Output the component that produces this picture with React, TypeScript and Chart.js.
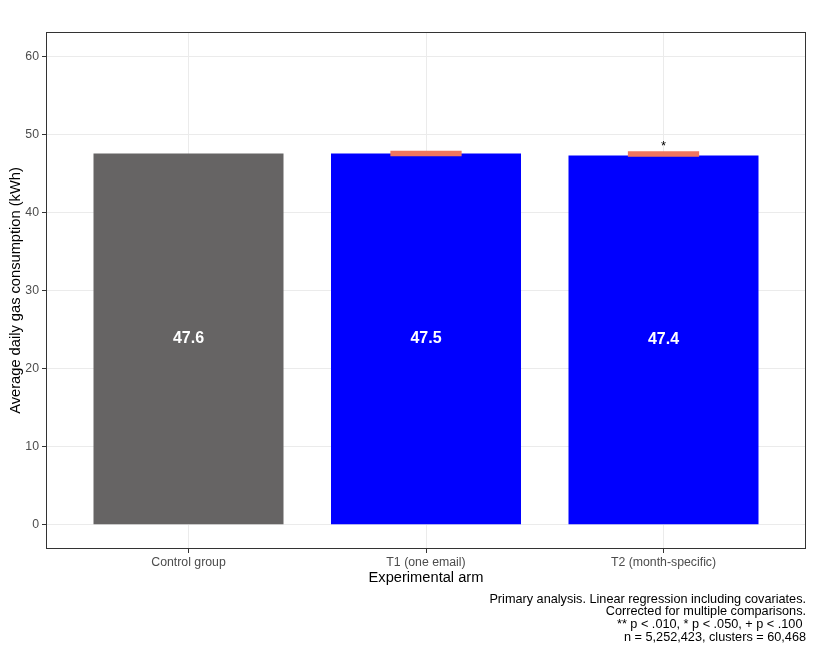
import { useEffect, useRef } from "react";
import Chart from "chart.js/auto";

const categories = ["Control group", "T1 (one email)", "T2 (month-specific)"];
const meanValues = [47.6, 47.6, 47.35];
const meanLabels = ["47.6", "47.5", "47.4"];
const ciLow = [null, 47.25, 47.2];
const ciHigh = [null, 47.95, 47.9];
const sigMarks = ["", "", "*"];
const barColors = ["#666464", "#0000ff", "#0000ff"];
const yTicks = [0, 10, 20, 30, 40, 50, 60];
const captionLines = [
  "Primary analysis. Linear regression including covariates.",
  "Corrected for multiple comparisons.",
  "** p < .010, * p < .050, + p < .100 ",
  "n = 5,252,423, clusters = 60,468",
];

const FONT = "'Liberation Sans', Arial, sans-serif";

export default function App() {
  const canvasRef = useRef<HTMLCanvasElement | null>(null);

  useEffect(() => {
    if (!canvasRef.current) return;

    const barData = categories.map((_, i) => ({ x: i + 1, y: meanValues[i] }));
    const ciData = categories
      .map((_, i) => ({ x: i + 1, y: [ciLow[i], ciHigh[i]] }))
      .filter((d) => d.y[0] !== null);

    const extras = {
      id: "extras",
      afterDatasetsDraw(chart: any) {
        const ctx = chart.ctx;
        const bars = chart.getDatasetMeta(0).data;
        ctx.save();
        ctx.fillStyle = "#ffffff";
        ctx.font = `bold 16px ${FONT}`;
        ctx.textAlign = "center";
        ctx.textBaseline = "middle";
        bars.forEach((el: any, i: number) => {
          ctx.fillText(meanLabels[i], el.x, (el.y + el.base) / 2);
        });
        // significance marks above the intervals
        const errs = chart.getDatasetMeta(1).data;
        ctx.fillStyle = "#000000";
        ctx.font = `13px ${FONT}`;
        ctx.textBaseline = "alphabetic";
        errs.forEach((el: any, j: number) => {
          const idx = ciData[j].x - 1;
          const top = Math.min(el.y, el.base);
          if (sigMarks[idx]) ctx.fillText(sigMarks[idx], el.x, top - 1);
        });
        ctx.restore();
      },
      afterDraw(chart: any) {
        const ctx = chart.ctx;
        const a = chart.chartArea;
        ctx.save();
        ctx.strokeStyle = "#333333";
        ctx.lineWidth = 1;
        ctx.strokeRect(a.left + 0.5, a.top + 0.5, a.right - a.left - 1, a.bottom - a.top - 1);
        ctx.fillStyle = "#000000";
        ctx.font = `12.7px ${FONT}`;
        ctx.textAlign = "right";
        ctx.textBaseline = "middle";
        captionLines.forEach((line, i) => {
          ctx.fillText(line, a.right, a.bottom + 50 + i * 12.7);
        });
        ctx.restore();
      },
    };

    const chart = new Chart(canvasRef.current, {
      type: "bar",
      data: {
        datasets: [
          {
            data: barData as any,
            backgroundColor: barColors,
            barPercentage: 0.8,
            categoryPercentage: 1,
            grouped: false,
            order: 2,
          },
          {
            data: ciData as any,
            backgroundColor: "#f0765f",
            barPercentage: 0.3,
            categoryPercentage: 1,
            grouped: false,
            order: 1,
          },
        ],
      },
      options: {
        animation: false,
        responsive: true,
        maintainAspectRatio: false,
        layout: { padding: { top: 32, right: 7, bottom: 60, left: 0 } },
        plugins: { legend: { display: false }, tooltip: { enabled: false } },
        scales: {
          x: {
            type: "linear",
            min: 0.4,
            max: 3.6,
            offset: false,
            afterBuildTicks: (s: any) => {
              s.ticks = categories.map((_, i) => ({ value: i + 1 }));
            },
            afterFit: (s: any) => {
              s.height = 42;
            },
            ticks: {
              callback: (v: any) => categories[Number(v) - 1] ?? "",
              color: "#4d4d4d",
              font: { family: FONT, size: 12.3 },
              padding: 2,
              maxRotation: 0,
            },
            grid: { color: "#ebebeb", tickColor: "#333333", tickLength: 4, offset: false },
            border: { display: false },
            title: {
              display: true,
              text: "Experimental arm",
              color: "#000000",
              font: { family: FONT, size: 14.67 },
              padding: { top: 0, bottom: 4 },
            },
          },
          y: {
            min: -3.1,
            max: 63.18,
            afterBuildTicks: (s: any) => {
              s.ticks = yTicks.map((v) => ({ value: v }));
            },
            afterFit: (s: any) => {
              s.width = 46;
            },
            ticks: {
              color: "#4d4d4d",
              font: { family: FONT, size: 12.3 },
              padding: 3,
            },
            grid: { color: "#ebebeb", tickColor: "#333333", tickLength: 4 },
            border: { display: false },
            title: {
              display: true,
              text: "Average daily gas consumption (kWh)",
              color: "#000000",
              font: { family: FONT, size: 14.67 },
              padding: { top: 7, bottom: 0 },
            },
          },
        },
      },
      plugins: [extras],
    });

    return () => chart.destroy();
  }, []);

  return (
    <div style={{ position: "absolute", left: 0, top: 0, width: 813, height: 651, background: "#ffffff" }}>
      <canvas ref={canvasRef}></canvas>
    </div>
  );
}
